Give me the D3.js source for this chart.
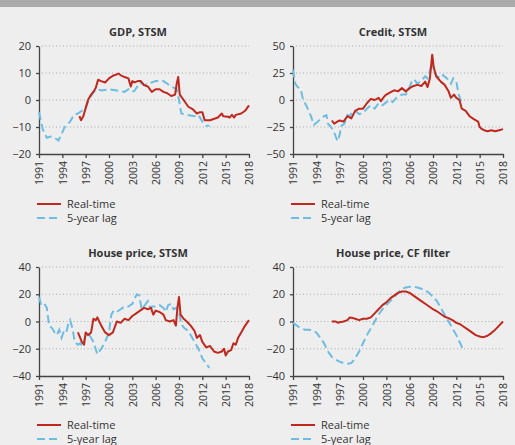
<!DOCTYPE html>
<html><head><meta charset="utf-8">
<script src="https://cdn.jsdelivr.net/npm/d3@7/dist/d3.min.js"></script>
<style>body{margin:0;background:#eeeeee;} svg{display:block;font-family:"Open Sans",sans-serif;}</style>
</head><body>
<script>
const years = [1991,1994,1997,2000,2003,2006,2009,2012,2015,2018];
const seriesNames = ["Real-time","5-year lag"];
const titles = ["GDP, STSM","Credit, STSM","House price, STSM","House price, CF filter"];
const yTicksGdp = [-20,-10,0,10,20];
const yTicksCredit = [-50,-25,0,25,50];
const yTicksHouse = [-40,-20,0,20,40];

const gdpReal = [[1996.2,-6],[1996.4,-7.5],[1996.7,-6],[1997,-3],[1997.3,0],[1997.7,2],[1998,3],[1998.3,4.5],[1998.6,7.5],[1999,7],[1999.5,6.5],[2000,8],[2000.5,9],[2001,9.5],[2001.2,9.8],[2001.6,9],[2002,8.5],[2002.5,8],[2002.8,5],[2003,7],[2003.3,6.5],[2003.7,7],[2004.1,7],[2004.5,5.5],[2005,5],[2005.5,3],[2006,4],[2006.5,4],[2007,3],[2007.5,2.5],[2008,1.5],[2008.5,2],[2008.7,6],[2008.9,8.5],[2009.1,2],[2009.6,0],[2010.2,-2.5],[2010.8,-3.5],[2011.3,-5],[2011.7,-4.5],[2012,-4.5],[2012.3,-7.5],[2013,-7.5],[2014,-6.5],[2014.5,-5],[2014.7,-6],[2015.3,-6.2],[2015.5,-6.5],[2015.8,-5.5],[2016.1,-6.5],[2016.3,-5.5],[2017,-5],[2017.5,-4],[2018,-2]];
const gdpLag = [[1991,-4.5],[1991.5,-11],[1992,-14],[1992.5,-13.5],[1993,-14],[1993.5,-15],[1994,-12],[1994.3,-10],[1995,-8],[1995.5,-5.5],[1996,-5],[1996.5,-4],[1997,-3],[1997.4,0],[1998,3],[1998.5,4],[1999,3.5],[2000,4],[2001,3.5],[2002,3],[2002.5,4],[2003,3],[2003.3,3.5],[2004,6.5],[2004.5,5.5],[2005,6],[2006,7],[2007,7],[2007.5,6],[2008,5],[2008.7,4],[2009,0],[2009.3,-5],[2010,-5.5],[2011,-6],[2011.5,-5.5],[2012,-8],[2012.5,-9.5],[2012.9,-9.5]];
const creditReal = [[1996,-19],[1996.3,-22],[1996.7,-20],[1997,-19],[1997.5,-20],[1998,-15],[1998.5,-17],[1999,-10],[1999.5,-8],[2000,-8],[2000.5,-3],[2001,1],[2001.5,0],[2002,2],[2002.3,-1],[2002.7,3],[2003,5],[2003.5,7],[2004,9],[2004.5,8],[2005,11],[2005.5,8],[2006,11],[2006.5,13],[2007,14],[2007.5,13],[2008,17],[2008.3,12],[2008.6,20],[2008.9,42],[2009.1,30],[2009.4,22],[2010,17],[2010.5,14],[2011,8],[2011.3,2],[2011.7,5],[2012,2],[2012.4,0],[2012.7,-8],[2013.2,-10],[2013.7,-15],[2014.3,-18],[2014.8,-20],[2015,-25],[2015.3,-27],[2015.6,-28],[2016,-29],[2016.5,-28],[2017,-29],[2017.5,-28],[2018,-27]];
const creditLag = [[1991,28],[1991.3,15],[1991.6,12],[1992,10],[1992.3,0],[1992.7,-5],[1993.3,-15],[1993.7,-23],[1994.2,-20],[1994.6,-17],[1995,-15],[1995.3,-14],[1995.5,-22],[1995.9,-25],[1996.3,-30],[1996.6,-36],[1996.8,-38],[1997,-32],[1997.2,-24],[1997.6,-22],[1998,-14],[1998.3,-15],[1998.7,-10],[1999,-10],[1999.5,-13],[2000,-12],[2000.5,-8],[2001,-5],[2001.5,-8],[2002,-3],[2002.5,-5],[2003,-2],[2003.5,0],[2003.8,-2],[2004.3,2],[2005,5],[2005.5,5],[2006,12],[2006.3,18],[2006.6,19],[2007,15],[2007.5,18],[2008,22],[2008.3,20],[2008.6,27],[2008.9,36],[2009.1,27],[2009.5,22],[2010,20],[2010.3,23],[2010.8,20],[2011.3,15],[2011.6,20],[2012,17],[2012.3,5],[2012.6,-1],[2013,-2]];
const houseReal = [[1996,-8],[1996.3,-12],[1996.5,-15],[1996.8,-17],[1997,-8],[1997.3,-10],[1997.7,-8],[1998,2],[1998.3,1],[1998.5,3],[1999,-3],[1999.5,-8],[2000,-10],[2000.5,-8],[2001,0],[2001.5,-1],[2002,2],[2002.5,1],[2003,4],[2003.5,6],[2004,8],[2004.5,10],[2005,9],[2005.4,10],[2005.7,5],[2006,8],[2006.5,7],[2007,5],[2007.3,1],[2007.8,0],[2008.3,1],[2008.6,-3],[2008.8,10],[2009,18],[2009.2,5],[2009.6,2],[2010,0],[2010.5,-3],[2011,-7],[2011.3,-12],[2011.7,-10],[2012,-15],[2012.5,-19],[2013,-18],[2013.5,-22],[2014,-23],[2014.5,-22],[2014.8,-20],[2015,-25],[2015.3,-22],[2015.7,-21],[2016,-16],[2016.3,-17],[2016.6,-12],[2017,-8],[2017.5,-3],[2018,1]];
const houseLag = [[1991,18],[1991.3,12],[1991.7,13],[1992,10],[1992.3,-3],[1992.7,-5],[1993,-8],[1993.3,-10],[1993.6,-6],[1993.9,-12],[1994.2,-7],[1994.5,-8],[1994.8,-1],[1995,1],[1995.3,-5],[1995.6,-15],[1996,-17],[1996.3,-16],[1996.6,-18],[1997,-10],[1997.5,-10],[1998,-15],[1998.5,-24],[1999,-20],[1999.5,-15],[2000,-8],[2000.3,5],[2000.6,8],[2001,7],[2001.5,9],[2002,11],[2002.5,11],[2003,13],[2003.3,17],[2003.6,20],[2003.9,19],[2004.2,9],[2004.6,12],[2005,15],[2005.3,10],[2005.6,11],[2006,11],[2006.5,12],[2007,10],[2007.3,7],[2007.6,12],[2008,13],[2008.3,9],[2008.7,10],[2009,7],[2009.3,-2],[2009.7,-5],[2010,-6],[2010.5,-10],[2011,-15],[2011.5,-20],[2012,-27],[2012.5,-31],[2012.9,-34]];
const cfReal = [[1996,0],[1996.5,0],[1996.8,-1],[1997,-0.5],[1997.5,0],[1998,1],[1998.3,3],[1998.7,2.5],[1999,2],[1999.5,1],[2000,2],[2000.5,2],[2001,3],[2001.5,6],[2002,9],[2002.5,12],[2003,14],[2003.5,17],[2004,19],[2004.5,21],[2005,22],[2005.5,22],[2006,21],[2006.5,19],[2007,17],[2007.5,15],[2008,13],[2008.5,11],[2009,9],[2009.5,7.5],[2010,5.5],[2010.5,3.5],[2011,2.5],[2011.5,1],[2012,-1],[2012.5,-2],[2013,-4],[2013.5,-6],[2014,-8],[2014.5,-10],[2015,-11],[2015.5,-11.5],[2016,-10.5],[2016.5,-8.5],[2017,-6],[2017.5,-3],[2018,0]];
const cfLag = [[1991,-1],[1991.5,-3],[1992,-5],[1992.5,-6],[1993,-6],[1993.5,-6.5],[1994,-8],[1994.5,-12],[1995,-16],[1995.5,-22],[1996,-26],[1996.5,-28],[1997,-29.5],[1997.5,-30.5],[1998,-31],[1998.5,-30.5],[1999,-27],[1999.5,-22],[2000,-16],[2000.5,-10],[2001,-5],[2001.5,0],[2002,5],[2002.5,9],[2003,12],[2003.5,15],[2004,18],[2004.5,21],[2005,24],[2005.5,25],[2006,25.5],[2006.5,25.5],[2007,25],[2007.5,24],[2008,23],[2008.5,21],[2009,18],[2009.5,15],[2010,10],[2010.5,5],[2011,0],[2011.5,-5],[2012,-10],[2012.5,-16],[2012.9,-21]];

const W = 515, H = 445;
const svg = d3.select("body").append("svg").attr("width", W).attr("height", H);
svg.append("rect").attr("width", W).attr("height", H).attr("fill", "#eeeeee");
svg.append("rect").attr("width", W).attr("height", 7).attr("fill", "#ababab");

const RED = "#c0281e", BLUE = "#6dbde2";
const panels = [
  {title: titles[0], ticks: yTicksGdp, real: gdpReal, lag: gdpLag, x0: 39, x1: 249, y0: 46, y1: 154, tx: 138, ty: 36, ly: 204},
  {title: titles[1], ticks: yTicksCredit, real: creditReal, lag: creditLag, x0: 293, x1: 503, y0: 46, y1: 154, tx: 393, ty: 36, ly: 204},
  {title: titles[2], ticks: yTicksHouse, real: houseReal, lag: houseLag, x0: 39, x1: 249, y0: 267, y1: 376, tx: 138, ty: 257, ly: 425},
  {title: titles[3], ticks: yTicksHouse, real: cfReal, lag: cfLag, x0: 293, x1: 503, y0: 267, y1: 376, tx: 393, ty: 257, ly: 425}
];

panels.forEach(p => {
  const g = svg.append("g");
  const x = d3.scaleLinear().domain([1991, 2018]).range([p.x0, p.x1]);
  const y = d3.scaleLinear().domain(d3.extent(p.ticks)).range([p.y1, p.y0]);
  // grid
  g.selectAll(".grid").data(p.ticks.slice(1)).join("line")
    .attr("x1", p.x0 + 3).attr("x2", p.x1).attr("y1", d => y(d)).attr("y2", d => y(d))
    .attr("stroke", "#a8a8a8").attr("stroke-width", 1).attr("stroke-dasharray", "1,2.5");
  // title
  g.append("text").attr("x", p.tx).attr("y", p.ty).attr("text-anchor", "middle")
    .attr("font-size", 11).attr("font-weight", "bold").attr("fill", "#333").text(p.title);
  // y axis
  const ya = g.append("g").attr("transform", `translate(${p.x0},0)`)
    .call(d3.axisLeft(y).tickValues(p.ticks).tickSize(3).tickSizeOuter(0).tickFormat(d => d < 0 ? "\u2212" + Math.abs(d) : d));
  ya.selectAll("path,line").attr("stroke", "#444").attr("stroke-width", 1.3);
  ya.selectAll("text").attr("font-size", 11).attr("fill", "#333").attr("x", -8).attr("font-family", "Open Sans, sans-serif");
  // x axis
  const xa = g.append("g").attr("transform", `translate(0,${p.y1})`)
    .call(d3.axisBottom(x).tickValues(years).tickSize(4).tickSizeOuter(0).tickFormat(d3.format("d")));
  xa.selectAll("path,line").attr("stroke", "#444").attr("stroke-width", 1.3);
  xa.selectAll("text").attr("font-size", 10.5).attr("fill", "#333").attr("font-family", "Open Sans, sans-serif")
    .attr("transform", "rotate(-90)").attr("text-anchor", "end").attr("x", -7).attr("y", 0).attr("dy", "0.35em");
  // lines
  const line = d3.line().x(d => x(d[0])).y(d => y(d[1]));
  g.append("path").datum(p.lag).attr("d", line).attr("fill", "none").attr("stroke", BLUE)
    .attr("stroke-width", 2).attr("stroke-dasharray", "8,4");
  g.append("path").datum(p.real).attr("d", line).attr("fill", "none").attr("stroke", RED)
    .attr("stroke-width", 2).attr("stroke-linejoin", "round");
  // legend
  const lg = g.append("g").attr("transform", `translate(37,${p.ly})`);
  if (p.x0 > 100) lg.attr("transform", `translate(291,${p.ly})`);
  [[RED, null], [BLUE, "8,4"]].forEach((s, i) => {
    lg.append("line").attr("x1", 0).attr("x2", 24).attr("y1", i * 14).attr("y2", i * 14)
      .attr("stroke", s[0]).attr("stroke-width", 2).attr("stroke-dasharray", s[1]);
    lg.append("text").attr("x", 30).attr("y", i * 14).attr("dy", "0.35em").attr("font-size", 11)
      .attr("fill", "#333").text(seriesNames[i]);
  });
});
</script>
</body></html>
